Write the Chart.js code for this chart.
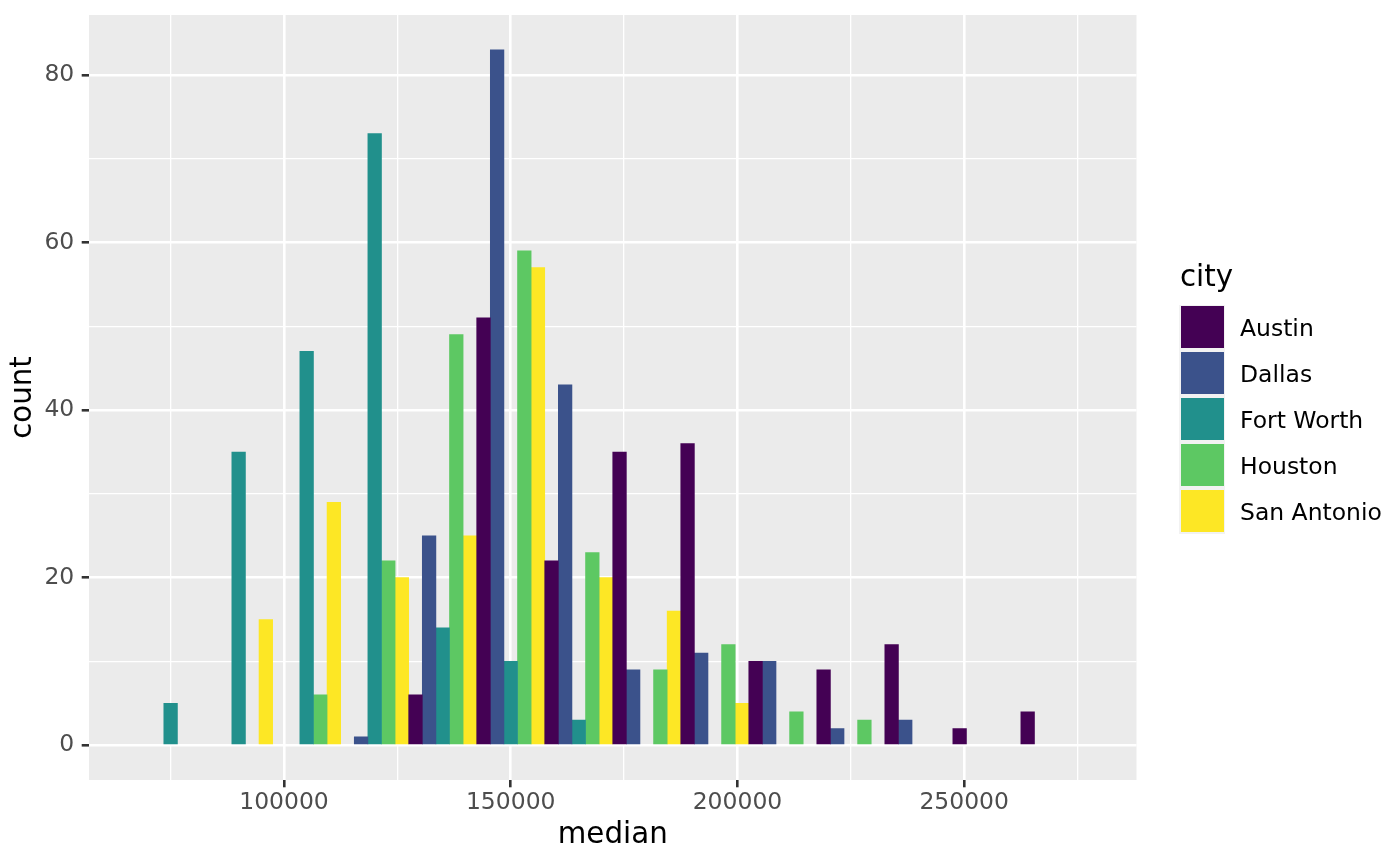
<!DOCTYPE html>
<html>
<head>
<meta charset="utf-8">
<script src="https://cdn.jsdelivr.net/npm/chart.js@4"></script>
<style>
  html, body { margin: 0; padding: 0; background: #ffffff; }
  #wrap { width: 1400px; height: 866px; position: relative; }
</style>
</head>
<body>
<div id="wrap"><canvas id="myChart"></canvas></div>
<script>
// bin centres (width 15000) and counts per city
var bins = [75000, 90000, 105000, 120000, 135000, 150000, 165000, 180000, 195000, 210000, 225000, 240000, 255000, 270000];
var cities = ['Austin', 'Dallas', 'Fort Worth', 'Houston', 'San Antonio'];
var austin     = [0, 0, 0, 0, 6, 51, 22, 35, 36, 10, 9, 12, 2, 4];
var dallas     = [0, 0, 0, 1, 25, 83, 43, 9, 11, 10, 2, 3, 0, 0];
var fortWorth  = [5, 35, 47, 73, 14, 10, 3, 0, 0, 0, 0, 0, 0, 0];
var houston    = [0, 0, 6, 22, 49, 59, 23, 9, 12, 4, 3, 0, 0, 0];
var sanAntonio = [0, 15, 29, 20, 25, 57, 20, 16, 5, 0, 0, 0, 0, 0];
var colors = ['#440154', '#3B528B', '#21908C', '#5DC863', '#FDE725'];

// axis ticks
var xMajor = [100000, 150000, 200000, 250000];
var xMinor = [75000, 125000, 175000, 225000, 275000];
var yMajor = [0, 20, 40, 60, 80];
var yMinor = [10, 30, 50, 70];

var FONT = "'DejaVu Sans', 'Liberation Sans', sans-serif";
var TICK_SIZE = 23.47, TITLE_SIZE = 29.33;

// empty bins keep their slot but draw nothing
function points(vals) {
  return bins.map(function (b, i) { return { x: b, y: vals[i] === 0 ? null : vals[i] }; });
}

var series = [austin, dallas, fortWorth, houston, sanAntonio];
var datasets = series.map(function (s, i) {
  return {
    label: cities[i],
    data: points(s),
    backgroundColor: colors[i],
    borderWidth: 0,
    barPercentage: 1.0,
    categoryPercentage: 1.0
  };
});

function isMajor(list, c) { return !!(c && c.tick && list.indexOf(c.tick.value) !== -1); }

// grey panel behind the grid
var panelBg = {
  id: 'panelBg',
  beforeDraw: function (chart) {
    var a = chart.chartArea, c = chart.ctx;
    c.save();
    c.fillStyle = '#EBEBEB';
    c.fillRect(a.left, a.top, a.right - a.left, a.bottom - a.top);
    c.restore();
  }
};

// ggplot style legend on the right
var sideLegend = {
  id: 'sideLegend',
  afterDraw: function (chart) {
    var c = chart.ctx;
    c.save();
    c.fillStyle = '#000000';
    c.textAlign = 'left';
    c.textBaseline = 'alphabetic';
    c.font = TITLE_SIZE + 'px ' + FONT;
    c.fillText('city', 1180, 286);
    c.fillStyle = '#F2F2F2';
    c.fillRect(1179, 305, 46, 229);
    chart.data.datasets.forEach(function (ds, i) {
      var y = 306 + i * 46;
      c.fillStyle = ds.backgroundColor;
      c.fillRect(1181, y, 43, 42);
      c.fillStyle = '#000000';
      c.font = TICK_SIZE + 'px ' + FONT;
      c.fillText(ds.label, 1240, y + 21 + 8.5);
    });
    c.restore();
  }
};

var ctx = document.getElementById('myChart').getContext('2d');
var myChart = new Chart(ctx, {
  type: 'bar',
  data: { datasets: datasets },
  plugins: [panelBg, sideLegend],
  options: {
    responsive: true,
    maintainAspectRatio: false,
    animation: false,
    layout: { padding: { left: 0, right: 263.5, top: 15, bottom: 0 } },
    plugins: {
      legend: { display: false },
      tooltip: { enabled: false }
    },
    scales: {
      x: {
        type: 'linear',
        min: 57000,
        max: 288000,
        offset: false,
        afterFit: function (s) { s.height = 86; s.paddingLeft = 0; s.paddingRight = 0; },
        afterBuildTicks: function (s) {
          s.ticks = xMinor.concat(xMajor).sort(function (a, b) { return a - b; })
            .map(function (v) { return { value: v }; });
        },
        border: { display: false },
        grid: {
          offset: false,
          color: '#FFFFFF',
          lineWidth: function (c) { return isMajor(xMajor, c) ? 2.6 : 1.3; },
          tickColor: function (c) { return isMajor(xMajor, c) ? '#333333' : 'rgba(0,0,0,0)'; },
          tickWidth: 2.6,
          tickLength: 7.3
        },
        ticks: {
          autoSkip: false,
          maxRotation: 0,
          padding: 1.5,
          color: '#4D4D4D',
          font: { family: FONT, size: TICK_SIZE },
          callback: function (v) { return xMajor.indexOf(v) !== -1 ? String(v) : ''; }
        },
        title: {
          display: true,
          text: 'median',
          color: '#000000',
          padding: { top: 0, bottom: 13.5 },
          font: { family: FONT, size: TITLE_SIZE }
        }
      },
      y: {
        min: -4.15,
        max: 87.15,
        afterFit: function (s) { s.width = 89; s.paddingTop = 0; s.paddingBottom = 0; },
        afterBuildTicks: function (s) {
          s.ticks = yMinor.concat(yMajor).sort(function (a, b) { return a - b; })
            .map(function (v) { return { value: v }; });
        },
        border: { display: false },
        grid: {
          color: '#FFFFFF',
          lineWidth: function (c) { return isMajor(yMajor, c) ? 2.6 : 1.3; },
          tickColor: function (c) { return isMajor(yMajor, c) ? '#333333' : 'rgba(0,0,0,0)'; },
          tickWidth: 2.6,
          tickLength: 7.3
        },
        ticks: {
          autoSkip: false,
          padding: 7.4,
          color: '#4D4D4D',
          font: { family: FONT, size: TICK_SIZE },
          callback: function (v) { return yMajor.indexOf(v) !== -1 ? String(v) : ''; }
        },
        title: {
          display: true,
          text: 'count',
          color: '#000000',
          padding: { top: 5.5, bottom: 0 },
          font: { family: FONT, size: TITLE_SIZE }
        }
      }
    }
  }
});
</script>
</body>
</html>
